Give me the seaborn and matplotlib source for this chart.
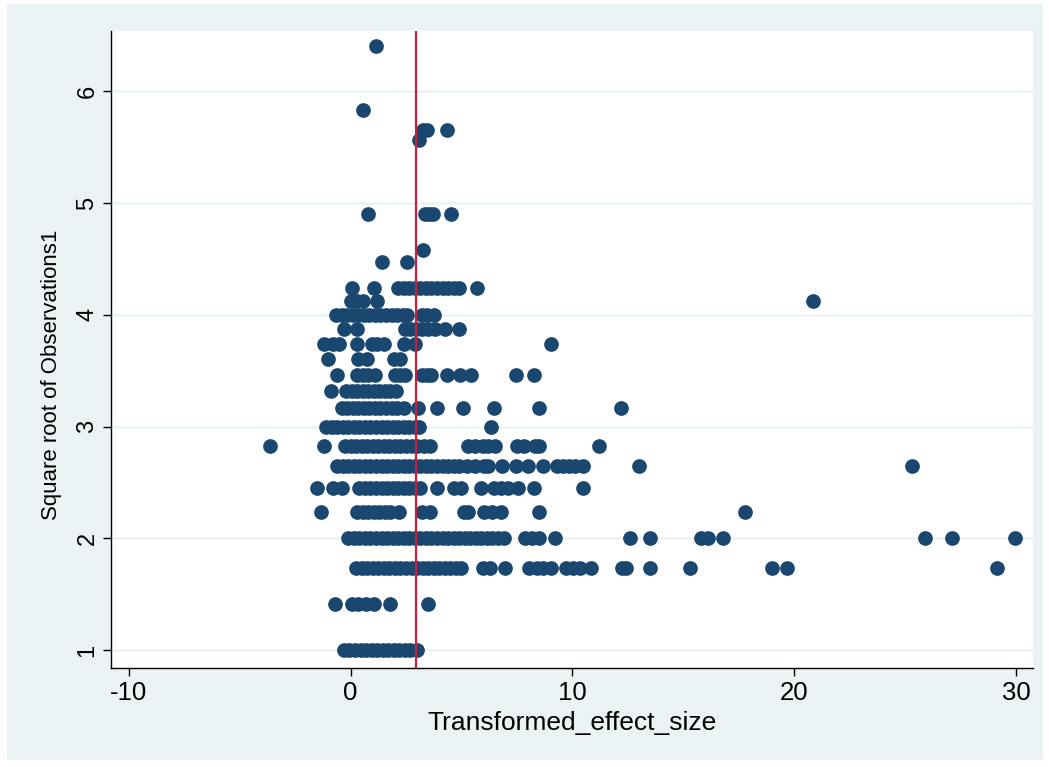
import numpy as np
import pandas as pd
import matplotlib
matplotlib.use("Agg")
import matplotlib.pyplot as plt
import seaborn as sns
from matplotlib.patches import Rectangle

# ---- data: effect sizes read per observation count (y = sqrt(observations)) ----
obs_41 = [1.13]
obs_34 = [0.55]
obs_32 = [3.25, 3.45, 4.35]
obs_31 = [3.1]
obs_24 = [0.77, 3.35, 3.55, 3.7, 4.55]
obs_21 = [3.25]
obs_20 = [1.43, 2.55]
obs_18 = [0.05, 1.05, 2.15, 2.4, 2.65, 2.9, 3.15, 3.4, 3.65, 3.9, 4.15, 4.4, 4.65, 4.9, 5.7]
obs_17 = [0.0, 0.3, 0.55, 1.2, 20.85]
obs_16 = [-0.65, -0.4, -0.15, 0.1, 0.35, 0.6, 0.85, 1.1, 1.35, 1.6, 1.85, 2.1, 2.35, 2.55,
          3.2, 3.45, 3.75]
obs_15 = [-0.3, 0.3, 2.45, 2.7, 2.95, 3.2, 3.5, 3.8, 4.25, 4.9]
obs_14 = [-1.2, -0.8, -0.5, 0.3, 0.95, 1.2, 1.5, 2.4, 2.9, 9.05]
obs_13 = [-1.0, 0.35, 0.75, 1.95, 2.25]
obs_12 = [-0.6, 0.3, 0.55, 0.8, 1.1, 2.0, 2.25, 2.45, 3.2, 3.45, 3.65, 4.35, 4.95, 5.45,
          7.45, 8.25]
obs_11 = [-0.9, -0.2, 0.05, 0.3, 0.55, 0.8, 1.05, 1.3, 1.55, 1.8, 2.05]
obs_10 = [-0.4, -0.15, 0.1, 0.35, 0.6, 0.85, 1.1, 1.35, 1.6, 1.85, 2.1, 2.4, 3.05, 3.9,
          5.05, 6.45, 8.5, 12.2]
obs_9 = [-1.1, -0.85, -0.6, -0.35, -0.1, 0.15, 0.4, 0.65, 0.9, 1.15, 1.4, 1.65, 1.9, 2.15,
         2.4, 2.65, 2.9, 3.1, 6.35]
obs_8 = [-3.65, -1.2, -0.25, 0.0, 0.25, 0.5, 0.75, 1.0, 1.25, 1.5, 1.75, 2.0, 2.25, 2.5,
         2.75, 3.0, 3.3, 3.6, 5.3, 5.6, 5.95, 6.2, 6.5, 7.5, 7.8, 8.3, 8.5, 11.2]
obs_7 = [-0.6, -0.35, -0.1, 0.15, 0.4, 0.65, 0.9, 1.15, 1.4, 1.65, 1.9, 2.15, 2.4, 2.65,
         2.9, 3.15, 3.4, 3.65, 3.9, 4.15, 4.4, 4.65, 4.9, 5.25, 5.6, 6.0, 6.2, 6.85, 7.45,
         8.0, 8.7, 9.3, 9.6, 9.85, 10.1, 10.5, 13.0, 25.3]
obs_6 = [-1.5, -0.8, -0.4, 0.4, 0.65, 0.9, 1.15, 1.4, 1.65, 1.9, 2.15, 2.4, 2.65, 2.9,
         3.15, 3.9, 4.65, 5.0, 5.9, 6.45, 6.8, 7.1, 7.55, 8.25, 10.5]
obs_5 = [-1.35, 0.3, 0.55, 0.8, 1.05, 1.3, 1.55, 1.8, 2.2, 3.2, 3.6, 5.1, 5.3, 6.0, 6.4,
         6.8, 8.5, 17.8]
obs_4 = [-0.1, 0.15, 0.4, 0.65, 0.9, 1.15, 1.4, 1.65, 1.9, 2.15, 2.4, 2.65, 2.9, 3.15,
         3.4, 3.65, 3.9, 4.15, 4.4, 4.65, 4.9, 5.15, 5.4, 5.65, 5.9, 6.15, 6.4, 6.65, 6.9,
         7.85, 8.2, 8.5, 9.2, 12.6, 13.5, 15.8, 16.1, 16.8, 25.9, 27.1, 29.95]
obs_3 = [0.25, 0.5, 0.75, 1.0, 1.25, 1.5, 1.75, 2.0, 2.25, 2.5, 2.75, 3.0, 3.25, 3.5,
         3.75, 4.0, 4.25, 4.5, 4.75, 5.0, 5.95, 6.3, 6.95, 8.05, 8.4, 8.7, 9.05, 9.7,
         10.05, 10.35, 10.85, 12.25, 12.4, 13.5, 15.3, 19.0, 19.7, 29.15]
obs_2 = [-0.7, 0.05, 0.35, 0.7, 1.05, 1.8, 3.5]
obs_1 = [-0.3, -0.05, 0.2, 0.45, 0.7, 0.95, 1.2, 1.45, 1.7, 1.95, 2.2, 2.45, 2.7, 3.0]

rows = {41: obs_41, 34: obs_34, 32: obs_32, 31: obs_31, 24: obs_24, 21: obs_21,
        20: obs_20, 18: obs_18, 17: obs_17, 16: obs_16, 15: obs_15, 14: obs_14,
        13: obs_13, 12: obs_12, 11: obs_11, 10: obs_10, 9: obs_9, 8: obs_8, 7: obs_7,
        6: obs_6, 5: obs_5, 4: obs_4, 3: obs_3, 2: obs_2, 1: obs_1}

ref_line_x = 2.93
x_ticks = [-10, 0, 10, 20, 30]
y_ticks = [1, 2, 3, 4, 5, 6]
x_label = "Transformed_effect_size"
y_label = "Square root of Observations1"

xs, ys = [], []
for n, vals in rows.items():
    for v in vals:
        xs.append(v)
        ys.append(np.sqrt(n))
df = pd.DataFrame({x_label: xs, y_label: ys})

# ---- figure ----
sns.set_theme(style="white")
plt.rcParams["font.family"] = ["Liberation Sans", "DejaVu Sans"]
plt.rcParams["text.color"] = "black"
plt.rcParams["axes.labelcolor"] = "black"
plt.rcParams["xtick.color"] = "black"
plt.rcParams["ytick.color"] = "black"

W, H = 1049, 767
fig = plt.figure(figsize=(W / 100, H / 100), dpi=100, facecolor="white")
bg = "#EAF2F3"
fig.patches.append(Rectangle((7 / W, 1 - 760 / H), (1043 - 7) / W, (760 - 4) / H,
                             transform=fig.transFigure, facecolor=bg,
                             edgecolor="none", zorder=-10))

ax = fig.add_axes([111 / W, 1 - 668 / H, (1033 - 111) / W, (668 - 31) / H])
ax.set_zorder(1)
ax.set_facecolor("white")

for t in y_ticks:
    ax.axhline(t, color=bg, lw=1.8, zorder=0.5)

sns.scatterplot(data=df, x=x_label, y=y_label, ax=ax, s=112, color="#1a476f",
                linewidth=0, alpha=1, zorder=3)
ax.axvline(ref_line_x, color="#c8203c", lw=1.6, zorder=4)

ax.set_xlim(-10.8, 30.77)
ax.set_ylim(0.84, 6.54)
ax.set_xticks(x_ticks)
ax.set_yticks(y_ticks)
ax.set_xticklabels([str(t) for t in x_ticks], fontsize=18.5, color="black")
ax.set_yticklabels([str(t) for t in y_ticks], fontsize=17, rotation=90, va="center",
                   color="black")
ax.tick_params(axis="both", direction="out", length=6, width=1, color="black",
               bottom=True, left=True, pad=3)
ax.set_xlabel(x_label, fontsize=19, labelpad=5, color="black")
ax.set_ylabel(y_label, fontsize=16, labelpad=10, color="black")
ax.yaxis.set_label_coords(-0.053, 0.46)

for side in ["top", "right"]:
    ax.spines[side].set_visible(False)
for side in ["left", "bottom"]:
    ax.spines[side].set_color("black")
    ax.spines[side].set_linewidth(1)
ax.grid(False)

fig.savefig("out.png", dpi=100, facecolor="white")
